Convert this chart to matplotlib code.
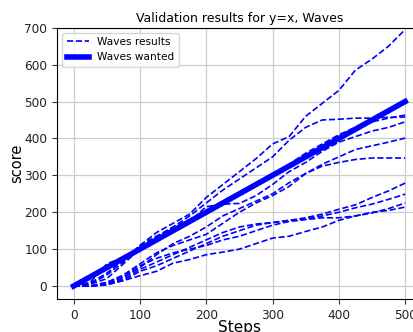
import matplotlib
matplotlib.use("Agg")
import matplotlib.pyplot as plt
import numpy as np

# steps at which the runs were sampled
steps = np.arange(0, 501, 25)

# validation runs
run_a = [0, 8, 35, 70, 110, 145, 170, 195, 240, 275, 310, 345, 385, 405, 460, 495, 530, 585, 615, 650, 695]
run_b = [0, 5, 30, 65, 110, 135, 160, 190, 225, 260, 290, 320, 350, 395, 430, 450, 452, 455, 455, 457, 458]
run_c = [0, 10, 60, 78, 105, 130, 160, 180, 205, 230, 255, 280, 305, 330, 360, 385, 410, 430, 445, 455, 463]
run_d = [0, 5, 20, 60, 100, 135, 150, 175, 215, 222, 224, 245, 275, 310, 335, 365, 390, 405, 420, 430, 445]
run_e = [0, 0, 10, 30, 60, 90, 110, 125, 140, 170, 200, 225, 245, 270, 305, 330, 350, 370, 380, 390, 401]
run_f = [0, 0, 5, 25, 50, 85, 115, 135, 160, 190, 210, 230, 250, 280, 305, 325, 335, 343, 347, 347, 347]
run_i = [0, 0, 5, 20, 45, 65, 85, 105, 125, 145, 160, 168, 172, 178, 185, 195, 208, 220, 240, 258, 279]
run_j = [0, 0, 3, 15, 40, 55, 75, 95, 115, 135, 150, 165, 172, 178, 182, 190, 200, 212, 222, 235, 249]
run_k = [0, 0, 10, 25, 55, 75, 90, 100, 110, 125, 135, 150, 165, 175, 180, 185, 185, 190, 198, 210, 225]
run_l = [0, 0, 5, 15, 28, 40, 62, 72, 85, 92, 100, 115, 130, 135, 148, 160, 178, 190, 200, 205, 214]
runs = [run_a, run_b, run_c, run_d, run_e, run_f, run_i, run_j, run_k, run_l]

wanted_x = [0, 500]
wanted_y = [0, 500]

fig = plt.figure(figsize=(4.14, 3.32), dpi=100)
# the reference is cropped on the right, so the axes run past the figure edge
ax = fig.add_axes([0.1377, 0.0994, 0.881, 0.8172])

for i, r in enumerate(runs):
    ax.plot(steps, r, 'b--', lw=1.2, label='Waves results' if i == 0 else None)
ax.plot(wanted_x, wanted_y, 'b-', lw=4, label='Waves wanted')

ax.set_xlim(-25, 525)
ax.set_ylim(-35, 700)
ax.set_xticks([0, 100, 200, 300, 400, 500])
ax.set_yticks([0, 100, 200, 300, 400, 500, 600, 700])
ax.tick_params(labelsize=8.7, colors='#333333', labelcolor='#222222')
ax.grid(True, color='#cccccc', lw=0.9)
ax.set_axisbelow(True)

ax.set_title('Validation results for y=x, Waves', fontsize=9, pad=4)
ax.set_xlabel('Steps', fontsize=11, labelpad=-1)
ax.set_ylabel('score', fontsize=10.5, labelpad=0)
ax.legend(loc='upper left', fontsize=7.6, handlelength=2.1)

fig.savefig('out.png', dpi=100)
